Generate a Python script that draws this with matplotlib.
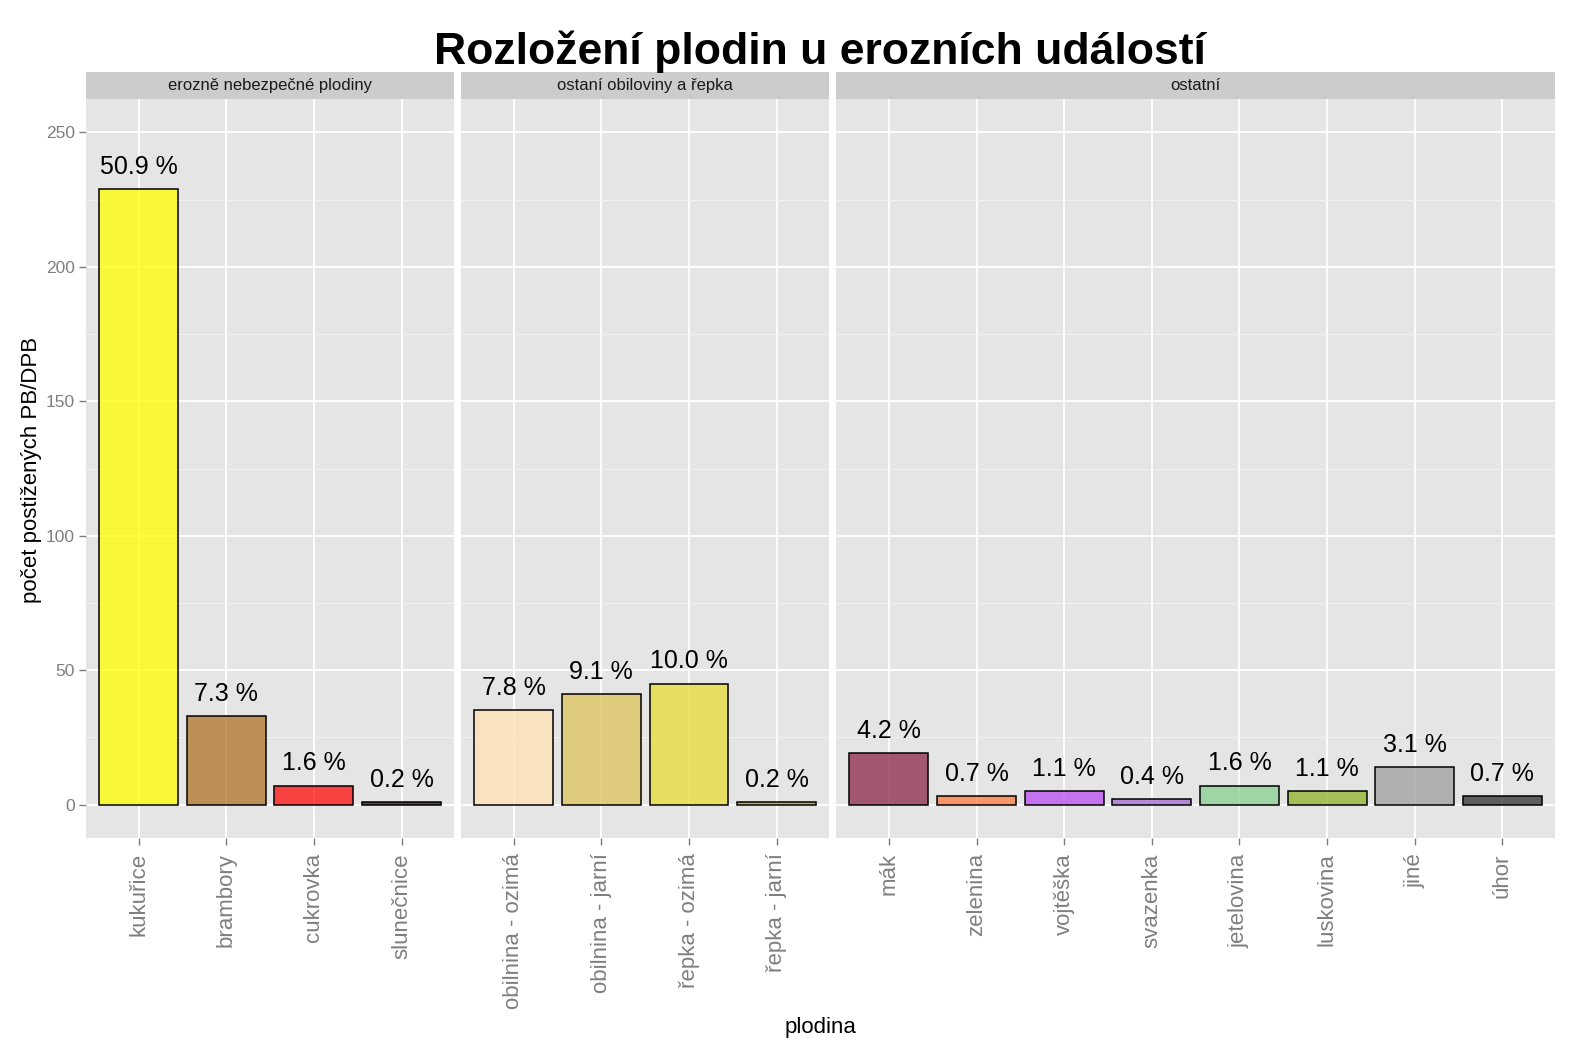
import numpy as np
import matplotlib.pyplot as plt
from matplotlib.colors import to_rgba

plt.rcParams['font.family'] = ['Liberation Sans', 'DejaVu Sans']

# data
groups = ["erozně nebezpečné plodiny", "ostaní obiloviny a řepka", "ostatní"]

crops_1 = ["kukuřice", "brambory", "cukrovka", "slunečnice"]
counts_1 = [229, 33, 7, 1]
colors_1 = ["#ffff00", "#ad7325", "#ff0a0a", "#301818"]

crops_2 = ["obilnina - ozimá", "obilnina - jarní", "řepka - ozimá", "řepka - jarní"]
counts_2 = [35, 41, 45, 1]
colors_2 = ["#ffe1b3", "#ddc359", "#e9db33", "#a8a41a"]

crops_3 = ["mák", "zelenina", "vojtěška", "svazenka", "jetelovina", "luskovina", "jiné", "úhor"]
counts_3 = [19, 3, 5, 2, 7, 5, 14, 3]
colors_3 = ["#8d2748", "#fd7b41", "#ba4cf1", "#a46cd4", "#88cf8f", "#8db325", "#9f9f9f", "#313131"]

yticks = [0, 50, 100, 150, 200, 250]

panels = [(crops_1, counts_1, colors_1), (crops_2, counts_2, colors_2), (crops_3, counts_3, colors_3)]
total = sum(counts_1) + sum(counts_2) + sum(counts_3)

W, H = 1582, 1054
fig = plt.figure(figsize=(W / 100, H / 100), dpi=100)

# layout in pixels
left, right = 86, 1555
top, bottom = 99, 838
gap = 7
strip_h = 27
units = [len(p[0]) - 1 + 1.2 for p in panels]
unit_px = (right - left - gap * (len(panels) - 1)) / sum(units)

x0 = left
for i, (crops, counts, cols) in enumerate(panels):
    w = units[i] * unit_px
    ax = fig.add_axes([x0 / W, 1 - bottom / H, w / W, (bottom - top) / H])
    ax.set_facecolor("#e5e5e5")
    x = np.arange(len(crops))
    faces = [to_rgba(c, 0.75) for c in cols]
    ax.bar(x, counts, width=0.9, color=faces, edgecolor="black", linewidth=1.1, zorder=3)
    for xi, c in zip(x, counts):
        ax.text(xi, c + 8.3, "%.1f %%" % (100.0 * c / total), ha="center", va="center",
                fontsize=18, color="black", zorder=4)
    ax.set_xlim(-0.6, len(crops) - 1 + 0.6)
    ax.set_ylim(-12.45, 262.45)
    ax.set_xticks(x)
    ax.set_xticklabels(crops, rotation=90, fontsize=16, color="#7f7f7f")
    ax.set_yticks(yticks)
    ax.set_yticks(np.arange(25, 275, 50), minor=True)
    ax.grid(which="major", color="white", linewidth=1.3, zorder=0)
    ax.grid(which="minor", axis="y", color="#f2f2f2", linewidth=0.7, zorder=0)
    ax.set_axisbelow(True)
    ax.tick_params(axis="both", which="major", direction="out", length=5, width=1,
                   color="#7f7f7f", pad=3)
    ax.tick_params(axis="x", pad=6)
    ax.tick_params(which="minor", length=0)
    if i == 0:
        ax.set_yticklabels([str(v) for v in yticks], fontsize=12.5, color="#7f7f7f")
    else:
        ax.tick_params(axis="y", left=False, labelleft=False)
    for s in ax.spines.values():
        s.set_visible(False)

    # facet strip
    sax = fig.add_axes([x0 / W, 1 - top / H, w / W, strip_h / H])
    sax.set_facecolor("#cccccc")
    sax.set_xticks([])
    sax.set_yticks([])
    for s in sax.spines.values():
        s.set_visible(False)
    sax.text(0.5, 0.5, groups[i], ha="center", va="center", fontsize=12, color="#1a1a1a",
             transform=sax.transAxes)
    x0 += w + gap

fig.text(820 / W, 1 - 52 / H, "Rozložení plodin u erozních událostí", ha="center", va="center",
         fontsize=32, fontweight="bold")
fig.text(820 / W, 1 - 1027 / H, "plodina", ha="center", va="center", fontsize=16)
fig.text(32 / W, 1 - 470 / H, "počet postižených PB/DPB", ha="center", va="center",
         rotation=90, fontsize=16)

fig.savefig("out.png", dpi=100)
